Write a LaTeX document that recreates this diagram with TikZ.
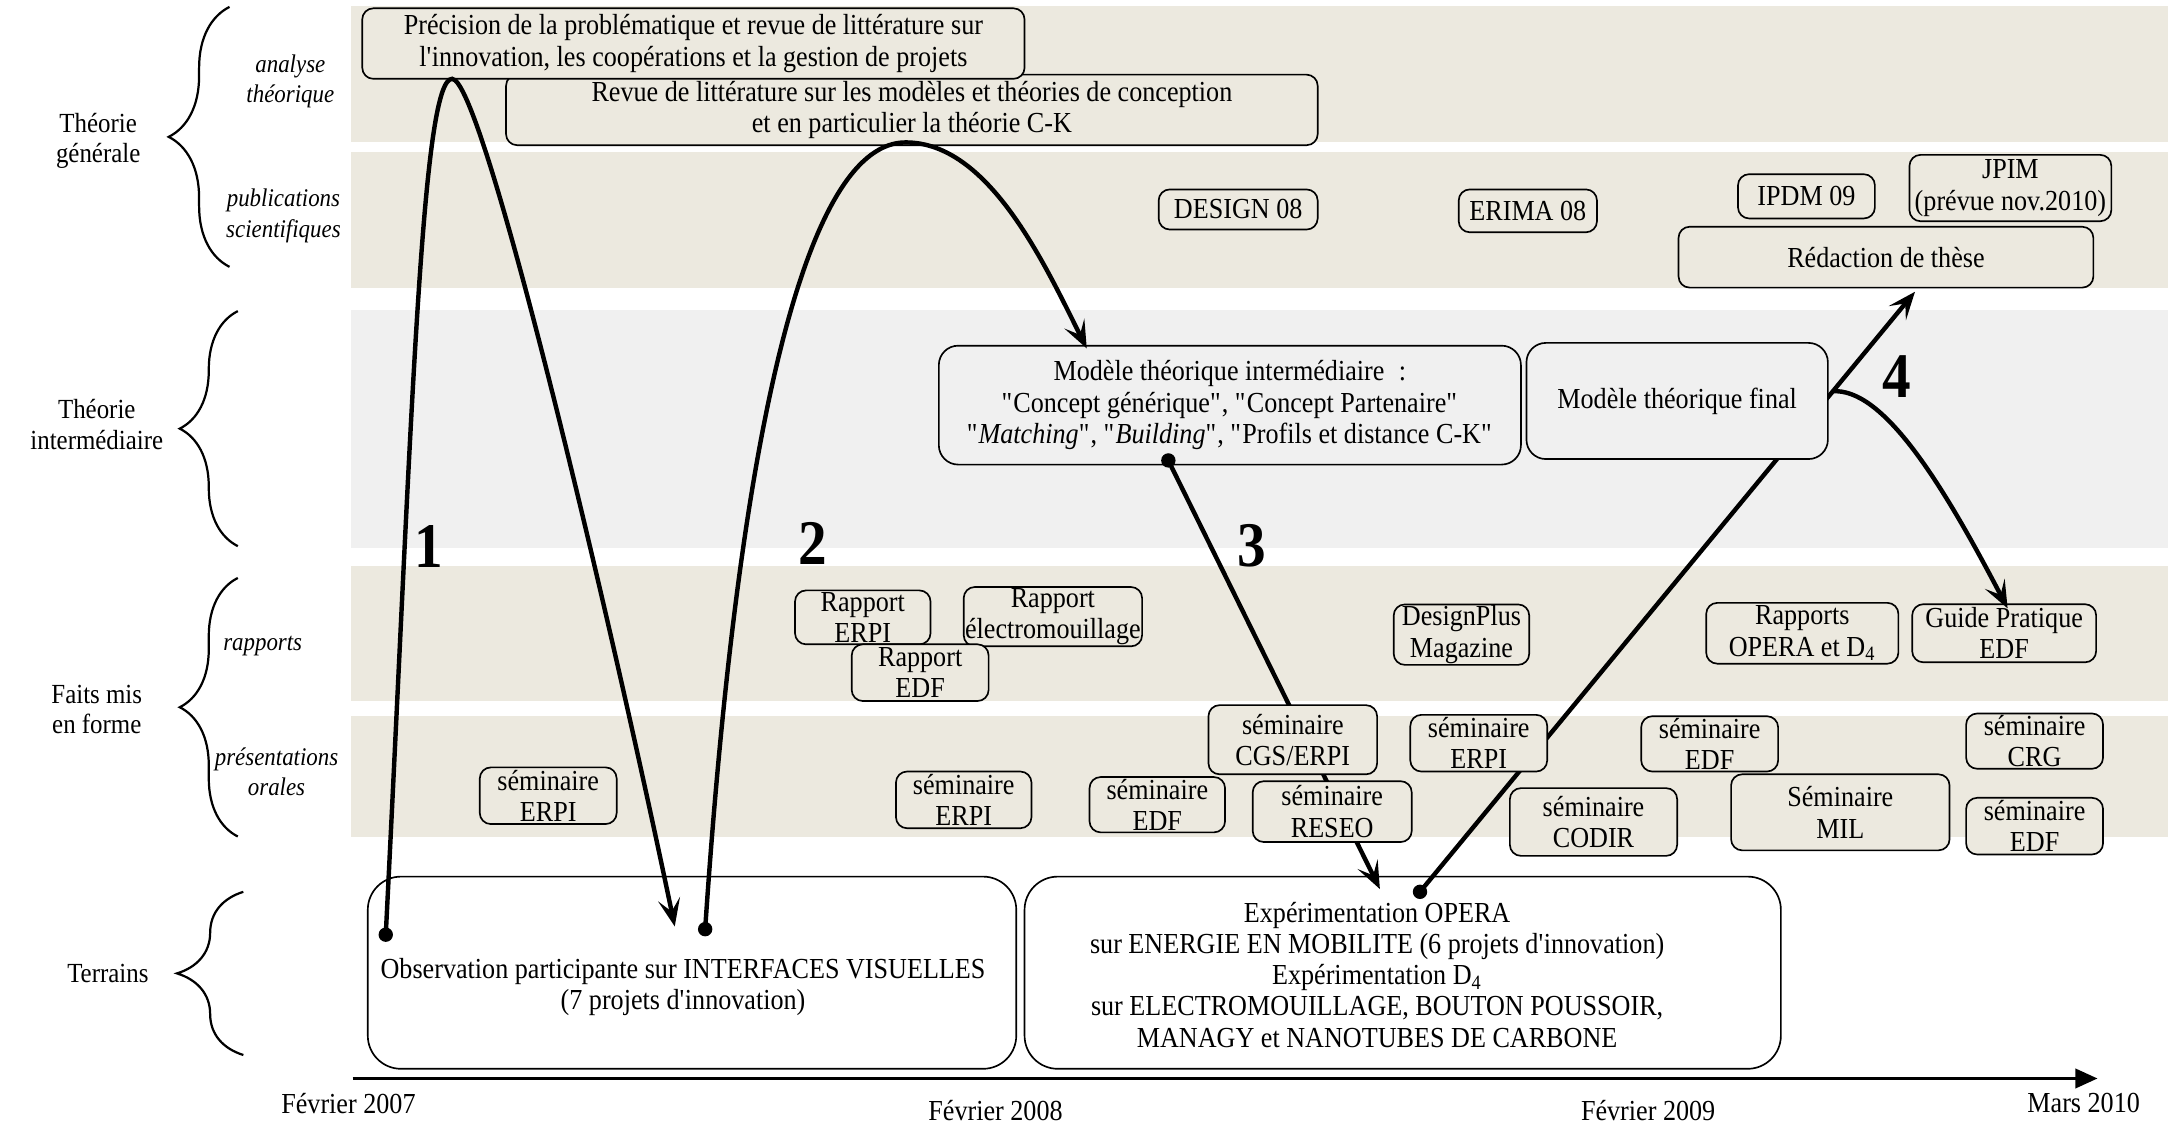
\documentclass[tikz,border=0pt]{standalone}
\usepackage{fontspec}
\setmainfont[FakeStretch=0.9]{Liberation Serif}
\usepackage{tikz}
\usetikzlibrary{arrows.meta,decorations.pathreplacing}
\definecolor{bandbeige}{RGB}{236,233,223}
\definecolor{bandgray}{RGB}{240,240,240}
\newcommand{\dq}{\textquotedbl}
\newcommand{\sq}{\textquotesingle}

\begin{document}
\begin{tikzpicture}[x=0.5pt,y=0.5pt,yscale=-1,xscale=1,
    every node/.style={font=\fontsize{10.5}{11.3}\selectfont},
    band/.style={fill=bandbeige,draw=none},
    bandmid/.style={fill=bandgray,draw=none},
    box/.style={draw,line width=0.6pt,rounded corners=4pt,fill=bandbeige,align=center,inner sep=0.5pt},
    midbox/.style={box,fill=bandgray,rounded corners=7pt},
    fieldbox/.style={draw,line width=0.6pt,rounded corners=12pt},
    sidelabel/.style={align=center,font=\fontsize{10}{11}\selectfont},
    sublabel/.style={align=center,font=\fontsize{9.2}{11}\selectfont\itshape},
    stepnum/.style={font=\fontsize{23}{23}\selectfont\bfseries},
    levelbrace/.style={decorate,decoration={brace,amplitude=#1},line width=0.8pt},
    flow/.style={line width=1.6pt,-{Stealth[length=10pt,width=8pt,inset=4.5pt]}},
    flowdot/.style={fill=black}
  ]
  \useasboundingbox (0,0) rectangle (1568,814);

  %Shape: Rectangle bands
  \fill[band] (254,4) rectangle (1568,103);
  \fill[band] (254,110) rectangle (1568,208);
  \fill[bandmid] (254,224) rectangle (1568,396);
  \fill[band] (254,409) rectangle (1568,507);
  \fill[band] (254,518) rectangle (1568,605);

  %Shape: Braces
  \draw[levelbrace=22pt] (166,193) -- (166,5);
  \draw[levelbrace=21pt] (172,395) -- (172,225);
  \draw[levelbrace=21pt] (172,605) -- (172,418);
  \draw[levelbrace=24pt] (176,763) -- (176,645);

  % Text Node
  \node[sidelabel] (lgen) at (71,102) {Théorie\\générale};
  \node[sidelabel] (linter) at (70,307) {Théorie\\intermédiaire};
  \node[sidelabel] (lfaits) at (70,513) {Faits mis\\en forme};
  \node[sidelabel] (lterr) at (78,704) {Terrains};
  \node[sublabel] (lana) at (210,59) {analyse\\théorique};
  \node[sublabel] (lpub) at (205,156) {publications\\scientifiques};
  \node[sublabel] (lrap) at (190,467) {rapports};
  \node[sublabel] (lpres) at (200,558) {présentations\\orales};

  % points of the paths
  \coordinate (d1) at (279,676);
  \coordinate (a1) at (327,57);
  \coordinate (t1) at (488,670);
  \coordinate (d2) at (510,672);
  \coordinate (a2) at (655,103);
  \coordinate (t2) at (786,252);
  \coordinate (d3) at (845,333);
  \coordinate (t3) at (998,643);
  \coordinate (d4) at (1027,645);
  \coordinate (t4) at (1385,211);
  \coordinate (b4) at (1325,283);
  \coordinate (t5) at (1452,440);

  % paths 3 and 4 run under the boxes
  \draw[flow] (d3) -- (t3);
  \draw[flow] (d4) -- (t4);

  %Shape: Rounded Rect, theorie generale
  \node[box,minimum width=293.5pt,minimum height=25.5pt] (revue) at (659.5,79.5) {Revue de littérature sur les modèles et théories de conception\\et en particulier la théorie C-K};
  \node[box,minimum width=239.5pt,minimum height=25.5pt] (prec) at (501.5,31.5) {Précision de la problématique et revue de littérature sur\\l\sq innovation, les coopérations et la gestion de projets};
  \node[box,minimum width=57.5pt,minimum height=14.5pt] (design) at (895.5,151.5) {DESIGN 08};
  \node[box,minimum width=50pt,minimum height=15.5pt] (erima) at (1105,152.5) {ERIMA 08};
  \node[box,minimum width=49.5pt,minimum height=16pt] (ipdm) at (1306.5,142) {IPDM 09};
  \node[box,minimum width=73pt,minimum height=24pt] (jpim) at (1454,136) {JPIM\\(prévue nov.2010)};
  \node[box,minimum width=150pt,minimum height=22pt] (these) at (1364,186) {Rédaction de thèse};

  %Shape: Rounded Rect, theorie intermediaire
  \node[midbox,minimum width=210.5pt,minimum height=43pt] (modint) at (889.5,293) {Modèle théorique intermédiaire\enspace:\\\dq Concept générique\dq, \dq Concept Partenaire\dq\\\dq\textit{Matching}\dq, \dq\textit{Building}\dq, \dq Profils et distance C-K\dq};
  \node[midbox,minimum width=109pt,minimum height=42pt] (modfin) at (1213,290) {Modèle théorique final};

  %Shape: Rounded Rect, rapports
  \node[box,minimum width=49pt,minimum height=19.5pt] (rerpi) at (624,446.5) {Rapport\\ERPI};
  \node[box,minimum width=64.5pt,minimum height=20pt] (relec) at (761.5,446) {Rapport\\électromouillage};
  \node[box,minimum width=49.5pt,minimum height=20.5pt] (redf) at (665.5,486.5) {Rapport\\EDF};
  \node[box,minimum width=49pt,minimum height=21pt] (dplus) at (1057,459) {DesignPlus\\Magazine};
  \node[box,minimum width=69.5pt,minimum height=22pt] (ropera) at (1303.5,458) {Rapports\\OPERA et D\textsubscript{4}};
  \node[box,minimum width=66.5pt,minimum height=21pt] (guide) at (1449.5,458) {Guide Pratique\\EDF};

  %Shape: Rounded Rect, presentations orales
  \node[box,minimum width=49.5pt,minimum height=20.5pt] (serpiA) at (396.5,575.5) {séminaire\\ERPI};
  \node[box,minimum width=49pt,minimum height=20.5pt] (serpiB) at (697,578.5) {séminaire\\ERPI};
  \node[box,minimum width=49pt,minimum height=20pt] (sedfA) at (837,582) {séminaire\\EDF};
  \node[box,minimum width=61pt,minimum height=25pt] (scgs) at (935,535) {séminaire\\CGS/ERPI};
  \node[box,minimum width=57.5pt,minimum height=22pt] (sreseo) at (963.5,587) {séminaire\\RESEO};
  \node[box,minimum width=49.5pt,minimum height=20.5pt] (serpiC) at (1069.5,537.5) {séminaire\\ERPI};
  \node[box,minimum width=60.5pt,minimum height=24.5pt] (scodir) at (1152.5,594.5) {séminaire\\CODIR};
  \node[box,minimum width=49.5pt,minimum height=20pt] (sedfB) at (1236.5,538) {séminaire\\EDF};
  \node[box,minimum width=79pt,minimum height=27.5pt] (smil) at (1331,587.5) {Séminaire\\MIL};
  \node[box,minimum width=49.5pt,minimum height=20pt] (scrg) at (1471.5,536) {séminaire\\CRG};
  \node[box,minimum width=49.5pt,minimum height=20.5pt] (sedfC) at (1471.5,597.5) {séminaire\\EDF};

  %Shape: Rounded Rect, terrains
  \node[fieldbox,minimum width=234.5pt,minimum height=69.5pt] (obs) at (500.5,703.5) {};
  \node[fieldbox,minimum width=273.5pt,minimum height=69.5pt] (expe) at (1014.5,703.5) {};
  % Text Node
  \node[align=center] (obstxt) at (494,714) {Observation participante sur INTERFACES VISUELLES\\(7 projets d\sq innovation)};
  \node[align=center] (expetxt) at (996,705) {Expérimentation OPERA\\sur ENERGIE EN MOBILITE (6 projets d\sq innovation)\\Expérimentation D\textsubscript{4}\\sur ELECTROMOUILLAGE, BOUTON POUSSOIR,\\MANAGY et NANOTUBES DE CARBONE};

  % paths 1, 2 and the branch of 4
  \draw[flow] (d1) .. controls (298,300) and (305,57) .. (a1) .. controls (349,57) and (440,440) .. (t1);
  \draw[flow] (d2) .. controls (535,300) and (585,103) .. (a2) .. controls (715,103) and (755,190) .. (t2);
  \draw[flow] (b4) .. controls (1362,280) and (1405,350) .. (t5);
  \fill[flowdot] (d1) circle[radius=2.6pt];
  \fill[flowdot] (d2) circle[radius=2.6pt];
  \fill[flowdot] (d3) circle[radius=2.6pt];
  \fill[flowdot] (d4) circle[radius=2.6pt];

  % Text Node
  \node[stepnum] (n1) at (310,395) {1};
  \node[stepnum] (n2) at (588,393) {2};
  \node[stepnum] (n3) at (905,395) {3};
  \node[stepnum] (n4) at (1372,272) {4};

  % time axis
  \coordinate (tl0) at (255,780);
  \coordinate (tl1) at (1517,780);
  \draw[line width=1pt,-{Triangle[length=8pt,width=7pt]}] (tl0) -- (tl1);
  \node (fev07) at (252,798) {Février 2007};
  \node (fev08) at (720,803) {Février 2008};
  \node (fev09) at (1192,803) {Février 2009};
  \node (mar10) at (1507,798) {Mars 2010};

\end{tikzpicture}
\end{document}
